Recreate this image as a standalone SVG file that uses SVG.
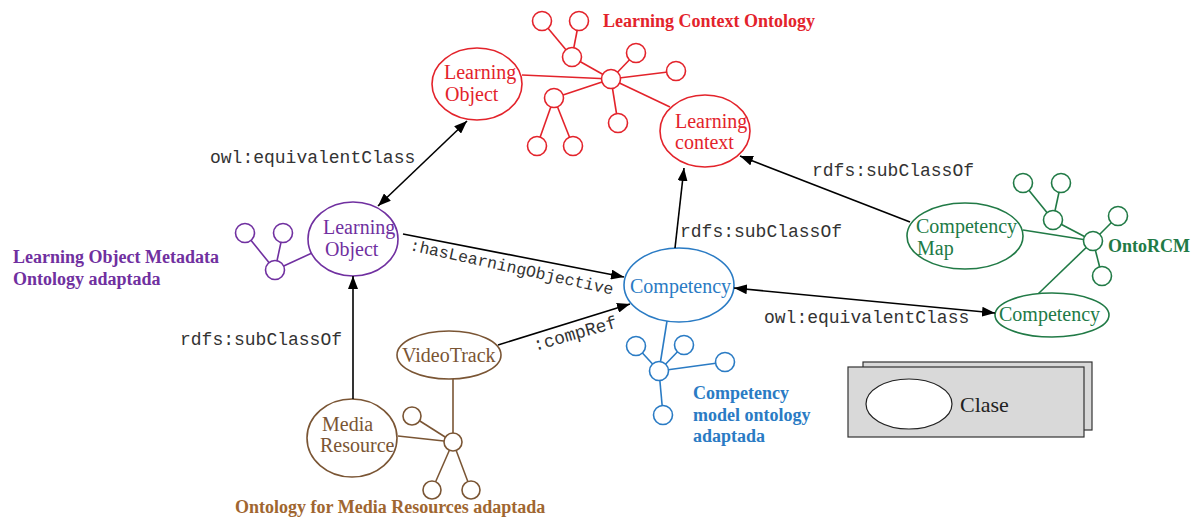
<svg xmlns="http://www.w3.org/2000/svg" width="1196" height="521" viewBox="0 0 1196 521">
  <defs>
    <marker id="head" viewBox="0 0 13 10" refX="13" refY="5" markerWidth="13" markerHeight="10" markerUnits="userSpaceOnUse" orient="auto-start-reverse">
      <path d="M0,0 L13,5 L0,10 z" fill="#000"/>
    </marker>
    <style>
      .node { fill: #fff; stroke-width: 1.6; }
      .lbl { font-family: "Liberation Serif", "Times New Roman", serif; font-size: 20px; }
      .title { font-family: "Liberation Serif", "Times New Roman", serif; font-size: 18px; font-weight: bold; }
      .rel { font-family: "Liberation Mono", "Courier New", monospace; font-size: 18px; fill: #333; }
      .edge { fill: none; stroke: #000; stroke-width: 1.6; }
      .red { stroke: #e3232b; }
      .redt { fill: #e3232b; }
      .pur { stroke: #7030a0; }
      .purt { fill: #7030a0; }
      .blu { stroke: #2a7bc4; }
      .blut { fill: #2a7bc4; }
      .grn { stroke: #217a46; }
      .grnt { fill: #217a46; }
      .brn { stroke: #7a5534; }
      .brnt { fill: #7a5534; }
      .brnl { fill: #a06630; }
      .tree { fill: none; stroke-width: 1.6; }
      .dot { fill: #fff; stroke-width: 1.6; }
    </style>
  </defs>

  <!-- Learning Context Ontology cluster -->
  <g id="lco-tree" class="red">
    <g class="tree red">
      <line x1="542" y1="21" x2="572" y2="57"/>
      <line x1="579" y1="21" x2="572" y2="57"/>
      <line x1="572" y1="57" x2="611" y2="79"/>
      <line x1="611" y1="79" x2="636" y2="53"/>
      <line x1="611" y1="79" x2="676" y2="71"/>
      <line x1="611" y1="79" x2="554" y2="98"/>
      <line x1="554" y1="98" x2="537" y2="146"/>
      <line x1="554" y1="98" x2="573" y2="146"/>
      <line x1="611" y1="79" x2="618" y2="123"/>
      <line x1="611" y1="79" x2="522" y2="75"/>
      <line x1="611" y1="79" x2="670" y2="107"/>
    </g>
    <g class="dot red">
      <circle cx="542" cy="21" r="9.5"/>
      <circle cx="579" cy="21" r="9.5"/>
      <circle cx="572" cy="57" r="9.5"/>
      <circle cx="611" cy="79" r="9.5"/>
      <circle cx="636" cy="53" r="9.5"/>
      <circle cx="676" cy="71" r="9.5"/>
      <circle cx="554" cy="98" r="9.5"/>
      <circle cx="537" cy="146" r="9.5"/>
      <circle cx="573" cy="146" r="9.5"/>
      <circle cx="618" cy="123" r="9.5"/>
    </g>
    <text class="title redt" x="603" y="27" stroke="none">Learning Context Ontology</text>
  </g>

  <g id="lco-learning-object">
    <ellipse class="node red" cx="477" cy="84" rx="45" ry="36"/>
    <text class="lbl redt" x="444" y="79">Learning</text>
    <text class="lbl redt" x="445" y="101">Object</text>
  </g>

  <g id="lco-learning-context">
    <ellipse class="node red" cx="705" cy="131" rx="45" ry="36"/>
    <text class="lbl redt" x="675" y="128">Learning</text>
    <text class="lbl redt" x="675" y="149">context</text>
  </g>

  <!-- Learning Object Metadata Ontology -->
  <g id="lom-tree">
    <g class="tree pur">
      <line x1="245" y1="233" x2="275" y2="270"/>
      <line x1="283" y1="233" x2="275" y2="270"/>
      <line x1="275" y1="270" x2="312" y2="253"/>
    </g>
    <g class="dot pur">
      <circle cx="245" cy="233" r="9.5"/>
      <circle cx="283" cy="233" r="9.5"/>
      <circle cx="275" cy="270" r="9.5"/>
    </g>
    <text class="title purt" x="13" y="263">Learning Object Metadata</text>
    <text class="title purt" x="13" y="285">Ontology adaptada</text>
  </g>

  <g id="lom-learning-object">
    <ellipse class="node pur" cx="353" cy="239" rx="45" ry="37"/>
    <text class="lbl purt" x="323" y="234">Learning</text>
    <text class="lbl purt" x="325" y="256">Object</text>
  </g>

  <!-- Competency model ontology -->
  <g id="cmo-tree">
    <g class="tree blu">
      <line x1="667" y1="321" x2="659" y2="371"/>
      <line x1="636" y1="346" x2="659" y2="371"/>
      <line x1="684" y1="345" x2="659" y2="371"/>
      <line x1="725" y1="362" x2="659" y2="371"/>
      <line x1="663" y1="415" x2="659" y2="371"/>
    </g>
    <g class="dot blu">
      <circle cx="636" cy="346" r="9.5"/>
      <circle cx="684" cy="345" r="9.5"/>
      <circle cx="725" cy="362" r="9.5"/>
      <circle cx="659" cy="371" r="9.5"/>
      <circle cx="663" cy="415" r="9.5"/>
    </g>
    <text class="title blut" x="693" y="399">Competency</text>
    <text class="title blut" x="693" y="421">model ontology</text>
    <text class="title blut" x="693" y="442">adaptada</text>
  </g>

  <g id="cmo-competency">
    <ellipse class="node blu" cx="679" cy="285" rx="55" ry="37"/>
    <text class="lbl blut" x="630" y="293">Competency</text>
  </g>

  <!-- OntoRCM -->
  <g id="ontorcm-tree">
    <g class="tree grn">
      <line x1="1023" y1="183" x2="1053" y2="220"/>
      <line x1="1061" y1="183" x2="1053" y2="220"/>
      <line x1="1053" y1="220" x2="1093" y2="241"/>
      <line x1="1118" y1="216" x2="1093" y2="241"/>
      <line x1="1102" y1="276" x2="1093" y2="241"/>
      <line x1="1023" y1="230" x2="1093" y2="241"/>
      <line x1="1038" y1="294" x2="1093" y2="241"/>
    </g>
    <g class="dot grn">
      <circle cx="1023" cy="183" r="9.5"/>
      <circle cx="1061" cy="183" r="9.5"/>
      <circle cx="1053" cy="220" r="9.5"/>
      <circle cx="1118" cy="216" r="9.5"/>
      <circle cx="1102" cy="276" r="9.5"/>
      <circle cx="1093" cy="241" r="9.5"/>
    </g>
    <text class="title grnt" x="1108" y="252">OntoRCM</text>
  </g>

  <g id="ontorcm-competency-map">
    <ellipse class="node grn" cx="965" cy="236" rx="58" ry="33"/>
    <text class="lbl grnt" x="916" y="233">Competency</text>
    <text class="lbl grnt" x="917" y="255">Map</text>
  </g>

  <g id="ontorcm-competency">
    <ellipse class="node grn" cx="1052" cy="315" rx="57" ry="22"/>
    <text class="lbl grnt" x="999" y="321">Competency</text>
  </g>

  <!-- Ontology for Media Resources -->
  <g id="mro-tree">
    <g class="tree brn">
      <line x1="453" y1="379" x2="453" y2="442"/>
      <line x1="412" y1="416" x2="453" y2="442"/>
      <line x1="398" y1="436" x2="453" y2="442"/>
      <line x1="432" y1="490" x2="453" y2="442"/>
      <line x1="471" y1="490" x2="453" y2="442"/>
    </g>
    <g class="dot brn">
      <circle cx="412" cy="416" r="9"/>
      <circle cx="453" cy="442" r="9"/>
      <circle cx="432" cy="490" r="9"/>
      <circle cx="471" cy="490" r="9"/>
    </g>
    <text class="title brnl" x="235" y="513">Ontology for Media Resources adaptada</text>
  </g>

  <g id="mro-videotrack">
    <ellipse class="node brn" cx="449" cy="355" rx="52" ry="24"/>
    <text class="lbl brnt" x="402" y="362">VideoTrack</text>
  </g>

  <g id="mro-media-resource">
    <ellipse class="node brn" cx="352" cy="438" rx="45" ry="39"/>
    <text class="lbl brnt" x="322" y="431">Media</text>
    <text class="lbl brnt" x="320" y="452">Resource</text>
  </g>

  <!-- Legend -->
  <g id="legend">
    <rect x="863" y="362" width="229" height="68" fill="#d9d9d9" stroke="#333" stroke-width="1.2"/>
    <rect x="848" y="367" width="236" height="70" fill="#d9d9d9" stroke="#333" stroke-width="1.2"/>
    <ellipse cx="909" cy="404" rx="43" ry="25" fill="#fff" stroke="#222" stroke-width="1.2"/>
    <text class="lbl" x="960" y="412" fill="#222" style="font-size:22px">Clase</text>
  </g>

  <!-- Connectors -->
  <g id="connectors">
    <line class="edge" x1="467" y1="121" x2="378" y2="206" marker-start="url(#head)" marker-end="url(#head)"/>
    <text class="rel" x="210" y="163">owl:equivalentClass</text>

    <line class="edge" x1="403" y1="234" x2="624" y2="277" marker-end="url(#head)"/>
    <text class="rel" style="font-size:16.5px" transform="translate(409,250) rotate(12.4)">:hasLearningObjective</text>

    <line class="edge" x1="675" y1="248" x2="684" y2="168" marker-end="url(#head)"/>
    <text class="rel" x="680" y="237">rdfs:subClassOf</text>

    <line class="edge" x1="910" y1="222" x2="740" y2="156" marker-end="url(#head)"/>
    <text class="rel" x="812" y="176">rdfs:subClassOf</text>

    <line class="edge" x1="734" y1="288" x2="995" y2="313" marker-start="url(#head)" marker-end="url(#head)"/>
    <text class="rel" x="764" y="323">owl:equivalentClass</text>

    <line class="edge" x1="498" y1="345" x2="630" y2="304" marker-end="url(#head)"/>
    <text class="rel" transform="translate(535,351) rotate(-16)">:compRef</text>

    <line class="edge" x1="353" y1="399" x2="353" y2="276" marker-end="url(#head)"/>
    <text class="rel" x="180" y="345">rdfs:subClassOf</text>
  </g>
</svg>
